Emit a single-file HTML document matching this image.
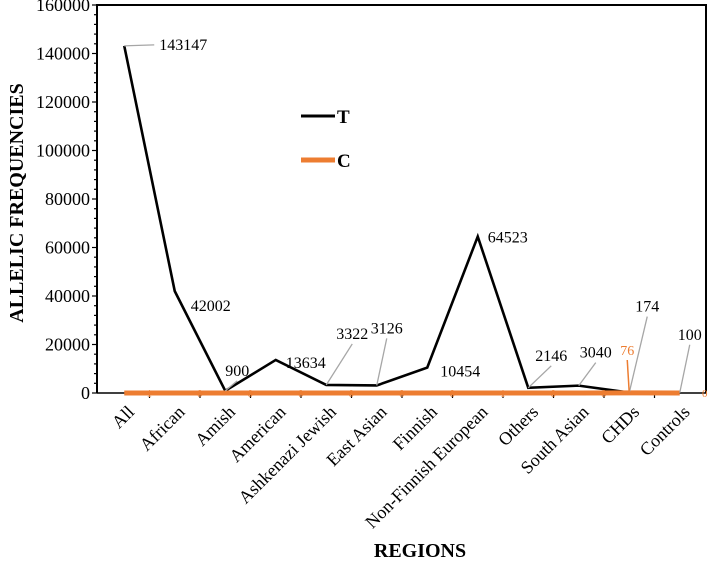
<!DOCTYPE html>
<html><head><meta charset="utf-8"><style>
body{margin:0;background:#fff;}
svg text{font-family:"Liberation Serif",serif;}
</style></head><body>
<svg id="chart" width="708" height="558" viewBox="0 0 708 558" xmlns="http://www.w3.org/2000/svg">
<g id="grid"></g>
<g id="marks"></g>
<g id="labels"></g>
<text transform="translate(23,203) rotate(-90)" text-anchor="middle" font-size="20" font-weight="bold">ALLELIC FREQUENCIES</text>
<text x="420" y="557" text-anchor="middle" font-size="20" font-weight="bold">REGIONS</text>
<g>
<line x1="301" y1="116" x2="335" y2="116" stroke="#000" stroke-width="3"/>
<text x="337" y="123" font-size="19" font-weight="bold">T</text>
<line x1="301" y1="160" x2="335" y2="160" stroke="#ed7d31" stroke-width="5"/>
<text x="337" y="167" font-size="19" font-weight="bold">C</text>
</g>
</svg>
<script>
const categories=["All","African","Amish","American","Ashkenazi Jewish","East Asian","Finnish","Non-Finnish European","Others","South Asian","CHDs","Controls"];
const seriesT=[143147,42002,900,13634,3322,3126,10454,64523,2146,3040,174,100];
const seriesC=[1,0,0,0,0,0,0,1,0,0,76,0];
const yTicks=[0,20000,40000,60000,80000,100000,120000,140000,160000];
const NS="http://www.w3.org/2000/svg";
const L=97,R=706,T=5,B=393,X0=99,BW=50.5;
const x=i=>X0+BW*(i+0.5);
const y=v=>B-(v/160000)*(B-T);
function mk(tag,attrs,parent,txt){const e=document.createElementNS(NS,tag);for(const k in attrs)e.setAttribute(k,attrs[k]);if(txt!==undefined)e.textContent=txt;parent.appendChild(e);return e;}
const grid=document.getElementById('grid'),marks=document.getElementById('marks'),labels=document.getElementById('labels');
let f=mk('path',{d:`M${L},${B} L${L},${T} L${R},${T} L${R},${B}`,fill:'none',stroke:'#000','stroke-width':2},grid);


let xa=mk('line',{x1:L,y1:B,x2:R,y2:B,stroke:'#000','stroke-width':1.5},grid);


for(let v=0;v<=160000;v+=4000){const major=v%20000===0;const t=mk('line',{x1:major?92:94,y1:y(v),x2:L,y2:y(v),stroke:'#000','stroke-width':1.2},grid);

}
yTicks.forEach(v=>{const t=mk('text',{x:90,y:y(v)+6,'text-anchor':'end','font-size':18},grid,String(v));

});
for(let i=1;i<categories.length;i++){const t=mk('line',{x1:X0+BW*i,y1:B,x2:X0+BW*i,y2:B+5,stroke:'#000','stroke-width':1.2},grid);

}
categories.forEach((c,i)=>{const t=mk('text',{transform:`translate(${x(i)+2},${B+11}) rotate(-45)`,'text-anchor':'end','font-size':18,'dominant-baseline':'hanging'},grid,c);

});
const lt=mk('polyline',{points:seriesT.map((v,i)=>x(i)+','+y(v)).join(' '),fill:'none',stroke:'#000','stroke-width':2.6,'stroke-linejoin':'miter'},marks);


const lc=mk('polyline',{points:seriesC.map((v,i)=>x(i)+','+y(v)).join(' '),fill:'none',stroke:'#ed7d31','stroke-width':5},marks);


const tOff=[[35,-1,1],[36,15,0],[12,-20,1],[30,3,0],[26,-51,1],[10,-57,1],[33,4,0],[30,1,0],[23,-32,1],[17,-33,1],[18,-86,1],[10,-58,1]];
seriesT.forEach((v,i)=>{const o=tOff[i];const px=x(i),py=y(v);
if(o[2]){const ln=mk('line',{x1:px,y1:py,x2:px+o[0]-(i===0?5:0),y2:py+o[1]+(i===0?0:10),stroke:'#a6a6a6','stroke-width':1.3},labels);

}
const t=mk('text',{x:px+o[0],y:py+o[1]+5,'font-size':16,'text-anchor':i===0?'start':'middle'},labels,String(v));

});
seriesC.forEach((v,i)=>{const px=x(i);
if(v===76){const ln=mk('line',{x1:px-2,y1:B-33,x2:px,y2:B,stroke:'#ed7d31','stroke-width':1.5},labels);


const t=mk('text',{x:px-2,y:B-38,'font-size':14,fill:'#ed7d31','text-anchor':'middle'},labels,String(v));

}
else{const t=mk('text',{x:px+25,y:B+4,'font-size':11,fill:'#ed7d31','text-anchor':'middle'},labels,String(v));

}});
</script>
</body></html>
